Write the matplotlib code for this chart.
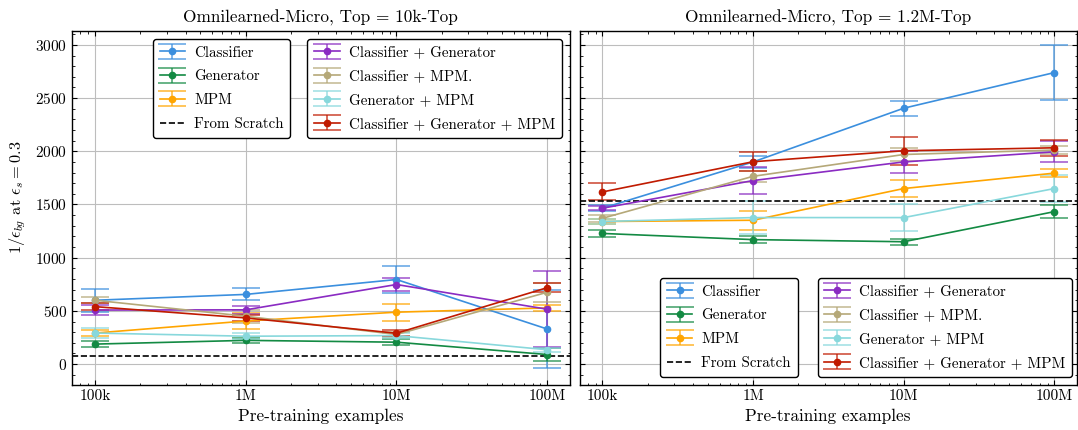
import matplotlib
matplotlib.use("Agg")
import matplotlib.pyplot as plt
from matplotlib.ticker import FixedLocator, LogLocator, MultipleLocator, NullFormatter
from matplotlib.colors import to_rgba

plt.rcParams.update({
    "font.family": "serif",
    "font.serif": ["cmr10", "DejaVu Serif"],
    "mathtext.fontset": "cm",
    "axes.formatter.use_mathtext": True,
    "font.size": 10.8,
    "xtick.direction": "in",
    "ytick.direction": "in",
    "xtick.top": True,
    "ytick.right": True,
    "xtick.major.size": 3.5,
    "ytick.major.size": 3.5,
    "xtick.minor.size": 1.8,
    "ytick.minor.size": 1.8,
    "xtick.minor.visible": True,
    "ytick.minor.visible": True,
    "axes.linewidth": 1.0,
})

examples = [1e5, 1e6, 1e7, 1e8]
tick_labels = ["100k", "1M", "10M", "100M"]

names = ["Classifier", "Generator", "MPM",
         "Classifier + Generator", "Classifier + MPM.",
         "Generator + MPM", "Classifier + Generator + MPM"]
colors = ["#3b8fde", "#138a43", "#ffa500", "#8a2bc2", "#b5a878", "#88d8dc", "#c01a00"]

# Top = 10k-Top
top10k_mean = {
    "Classifier": [600, 655, 795, 330],
    "Generator": [188, 223, 206, 90],
    "MPM": [292, 405, 488, 528],
    "Classifier + Generator": [508, 510, 748, 516],
    "Classifier + MPM.": [600, 450, 278, 675],
    "Generator + MPM": [292, 262, 268, 135],
    "Classifier + Generator + MPM": [540, 434, 290, 718],
}
top10k_err = {
    "Classifier": [110, 56, 125, 370],
    "Generator": [25, 25, 30, 65],
    "MPM": [30, 75, 80, 30],
    "Classifier + Generator": [50, 35, 65, 355],
    "Classifier + MPM.": [30, 60, 20, 90],
    "Generator + MPM": [50, 30, 20, 20],
    "Classifier + Generator + MPM": [35, 30, 30, 45],
}
top10k_scratch = 75

# Top = 1.2M-Top
top12m_mean = {
    "Classifier": [1465, 1900, 2405, 2740],
    "Generator": [1228, 1170, 1150, 1433],
    "MPM": [1340, 1352, 1650, 1795],
    "Classifier + Generator": [1465, 1725, 1900, 1995],
    "Classifier + MPM.": [1370, 1765, 1970, 2012],
    "Generator + MPM": [1340, 1377, 1377, 1650],
    "Classifier + Generator + MPM": [1618, 1902, 2005, 2033],
}
top12m_err = {
    "Classifier": [30, 55, 70, 255],
    "Generator": [30, 30, 30, 60],
    "MPM": [25, 90, 80, 35],
    "Classifier + Generator": [20, 130, 100, 100],
    "Classifier + MPM.": [30, 50, 60, 40],
    "Generator + MPM": [25, 155, 130, 130],
    "Classifier + Generator + MPM": [80, 90, 130, 75],
}
top12m_scratch = 1530

fig, axes = plt.subplots(1, 2, figsize=(10.78, 4.3), dpi=100, sharey=True)
fig.subplots_adjust(left=0.067, right=0.999, top=0.929, bottom=0.105, wspace=0.02)


def draw_panel(ax, means, errs, scratch, title):
    handles = {}
    for name, c in zip(names, colors):
        h = ax.errorbar(examples, means[name], yerr=errs[name], color=c,
                        ecolor=to_rgba(c, 0.75), marker="o", markersize=4.5,
                        lw=1.2, elinewidth=1.2, capsize=10, capthick=1.2)
        handles[name] = h
    ax.axhline(scratch, color="black", ls="--", lw=1.2, label="From Scratch")
    sc = ax.lines[-1]
    ax.set_xscale("log")
    ax.set_xlim(7.05e4, 1.41e8)
    ax.set_ylim(-195, 3135)
    ax.xaxis.set_major_locator(FixedLocator(examples))
    ax.set_xticklabels(tick_labels)
    ax.xaxis.set_minor_locator(LogLocator(base=10, subs=range(2, 10)))
    ax.xaxis.set_minor_formatter(NullFormatter())
    ax.yaxis.set_major_locator(MultipleLocator(500))
    ax.yaxis.set_minor_locator(MultipleLocator(100))
    ax.grid(True, which="major", color="#bdbdbd", lw=0.8)
    ax.tick_params(which="both", labelsize=11)
    ax.set_xlabel("Pre-training examples", fontsize=12.4)
    ax.set_title(title, fontsize=12.4)
    first = [handles[n] for n in names[:3]] + [sc]
    second = [handles[n] for n in names[3:]]
    return first, second


leg_kw = dict(frameon=True, fancybox=True, edgecolor="black", framealpha=1,
              fontsize=10.8, handlelength=1.7, borderpad=0.45, labelspacing=0.67,
              handletextpad=0.6, borderaxespad=0.0)

ax = axes[0]
first, second = draw_panel(ax, top10k_mean, top10k_err, top10k_scratch,
                           "Omnilearned-Micro, Top = 10k-Top")
leg1 = ax.legend(first, names[:3] + ["From Scratch"], loc="upper left",
                 bbox_to_anchor=(0.162, 0.976), **leg_kw)
ax.add_artist(leg1)
ax.legend(second, names[3:], loc="upper right", bbox_to_anchor=(0.984, 0.976), **leg_kw)
ax.set_ylabel(r"$1/\epsilon_{bg}$ at $\epsilon_s = 0.3$", fontsize=11.8)
ax.yaxis.set_label_coords(-0.088, 0.53)

ax = axes[1]
first, second = draw_panel(ax, top12m_mean, top12m_err, top12m_scratch,
                           "Omnilearned-Micro, Top = 1.2M-Top")
leg1 = ax.legend(first, names[:3] + ["From Scratch"], loc="lower left",
                 bbox_to_anchor=(0.162, 0.023), **leg_kw)
ax.add_artist(leg1)
ax.legend(second, names[3:], loc="lower right", bbox_to_anchor=(0.99, 0.023), **leg_kw)
ax.tick_params(axis="y", labelleft=False)

fig.savefig("out.png", dpi=100)
